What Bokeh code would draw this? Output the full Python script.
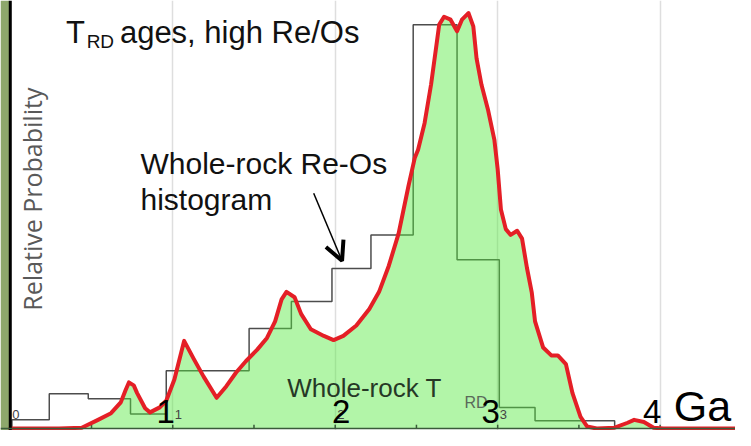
import math
from bokeh.plotting import figure
from bokeh.models import Range1d, Grid, FixedTicker, Span, BoxAnnotation, Arrow, OpenHead, ColumnDataSource
from bokeh.core.properties import value
from bokeh.embed import file_html
from bokeh.resources import INLINE

# ---- data (ages in Ga, relative probability in % of peak) ----
kde_age = [0.00, 0.30, 0.44, 0.54, 0.62, 0.68, 0.71, 0.73, 0.76, 0.78,
           0.83, 0.86, 0.92, 0.96, 1.01, 1.07, 1.13, 1.19, 1.27, 1.33,
           1.39, 1.45, 1.52, 1.58, 1.63, 1.67, 1.70, 1.75, 1.79, 1.85,
           1.93, 1.99, 2.05, 2.13, 2.21, 2.27, 2.33, 2.39, 2.45, 2.49,
           2.51, 2.55, 2.59, 2.62, 2.64, 2.67, 2.71, 2.75, 2.78, 2.82,
           2.85, 2.87, 2.90, 2.94, 2.98, 3.00, 3.02, 3.05, 3.08, 3.12,
           3.15, 3.18, 3.21, 3.23, 3.28, 3.33, 3.37, 3.42, 3.46, 3.51,
           3.55, 3.61, 3.72, 3.80, 3.84, 3.90, 3.96, 4.02, 4.46]
kde_prob = [0, 0, 0.2, 2.1, 3.7, 6.3, 9.3, 11.1, 10.4, 8.6,
            4.9, 3.9, 5.1, 6.7, 11.8, 21.1, 16.7, 12.5, 7.4, 10.2,
            13.5, 16.2, 19.0, 21.8, 25.8, 31.1, 32.9, 31.6, 27.6, 23.9,
            22.3, 21.3, 22.3, 24.8, 28.8, 32.9, 39.2, 46.9, 58.2, 65.2,
            67.1, 73.5, 82.8, 91.4, 97.2, 99.1, 98.4, 95.6, 98.4, 100,
            96.8, 89.1, 82.8, 76.8, 69.4, 62.4, 52.7, 48.0, 46.6, 47.6,
            45.7, 38.7, 32.7, 25.8, 19.5, 17.6, 17.6, 15.5, 8.6, 2.8,
            0.5, 0, 0.2, 1.4, 2.1, 1.6, 0.2, 0, 0]

hist_edges = [0.01, 0.24, 0.48, 0.74, 0.96, 1.47, 1.73, 1.98, 2.22, 2.48, 2.75, 3.01, 3.23, 3.72]
hist_heights = [2.1, 8.4, 7.2, 3.5, 13.9, 24.1, 30.6, 38.5, 46.6, 97.2, 40.6, 5.1, 1.9]

major_ticks = [1, 2, 3, 4]
major_labels = ["1", "2", "3", "4"]
small_ticks = [0, 1, 2, 3]
small_labels = ["0", "1", "2", "3"]
minor_ticks = [0.5, 1.0, 1.5, 2.0, 2.5, 3.0, 3.5, 4.0]

# ---- layout helpers (reference-pixel -> data) ----
W, H = 735, 430
REF_W, REF_H = 751, 446
FS = W / REF_W


def rx(px):
    return (px - 10) / 166.0


def ry(py):
    return (444 - py) / 4.31


def fs(s):
    return value(f"{round(s * FS)}px")


p = figure(width=W, height=H, x_range=Range1d(rx(0), rx(REF_W)), y_range=Range1d(ry(REF_H), ry(0)),
           x_axis_type=None, y_axis_type=None, min_border=0, toolbar_location=None,
           output_backend="svg", outline_line_color=None, background_fill_color="white",
           border_fill_color="white")

# grid
p.add_layout(Grid(dimension=0, ticker=FixedTicker(ticks=major_ticks),
                  grid_line_color="#dedede", grid_line_width=1.5))

# left strip and axis line
p.add_layout(BoxAnnotation(right=rx(9), fill_color="#8ea86c", fill_alpha=1.0, line_color=None, level="underlay"))
p.add_layout(Span(location=0, dimension="height", line_color="black", line_width=3))

# histogram outline
hx, hy = [hist_edges[0]], [0]
for i, h in enumerate(hist_heights):
    hx += [hist_edges[i], hist_edges[i + 1]]
    hy += [h, h]
hx.append(hist_edges[-1])
hy.append(0)
p.line(hx, hy, line_color="#4d4d4d", line_width=1.5)

# filled KDE
p.varea(x=kde_age, y1=[0] * len(kde_age), y2=kde_prob, fill_color="#54e93e", fill_alpha=0.45)

# baseline + minor ticks
p.add_layout(Span(location=0, dimension="width", line_color="#3a5a3a", line_width=1.5))
p.segment(x0=minor_ticks, y0=[0] * len(minor_ticks), x1=minor_ticks, y1=[ry(440)] * len(minor_ticks),
          line_color="#3a5a3a", line_width=1.5)

# KDE curve
p.line(kde_age, kde_prob, line_color="#e41f26", line_width=4, line_join="round", line_cap="round")


def label(x, y, s, size, color="#111111", align="left", font="Liberation Sans", angle=0.0):
    # y is the vertical centre of the capitals in reference pixels
    p.text(x=[x], y=[y], text=[s], text_font=value(font), text_font_size=fs(size), text_color=color,
           text_align=align, text_baseline="middle", angle=angle)


# title
label(rx(67), ry(33), "T", 32)
label(rx(88), ry(43), "RD", 19)
label(rx(122), ry(33.5), "ages, high Re/Os", 32)

# y label
label(rx(32), ry(206), "Relative Probability", 26, color="#595959", align="center",
      font="Open Sans", angle=math.pi / 2)

# annotation with arrow
label(rx(143), ry(169), "Whole-rock Re-Os", 31)
label(rx(143), ry(206), "histogram", 31)
p.add_layout(Arrow(end=OpenHead(size=19, line_width=4, line_color="black"),
                   x_start=rx(320), y_start=ry(200), x_end=rx(349), y_end=ry(270),
                   line_color="black", line_width=1.5))

# bottom label
label(rx(293), ry(402), "Whole-rock T", 27, color="#263826")
label(rx(474), ry(417), "RD", 16, color="#5a6a5a")

# small original tick labels
p.text(x=small_ticks, y=[ry(429)] * len(small_ticks), text=small_labels, x_offset=2,
       text_font=value("Liberation Sans"), text_font_size=fs(13), text_color="#444444",
       text_align="left", text_baseline="middle")

# big tick labels
big_offsets = [-7, 6, -7, -8]
src = ColumnDataSource(dict(x=major_ticks, y=[ry(426)] * 4, t=major_labels, off=big_offsets))
p.text(x="x", y="y", text="t", x_offset="off", source=src, text_font=value("Liberation Sans"),
       text_font_size=fs(34), text_color="black", text_align="center", text_baseline="middle")

label(rx(688), ry(421), "Ga", 44, color="black")

open("out.html", "w").write(file_html(p, INLINE))
